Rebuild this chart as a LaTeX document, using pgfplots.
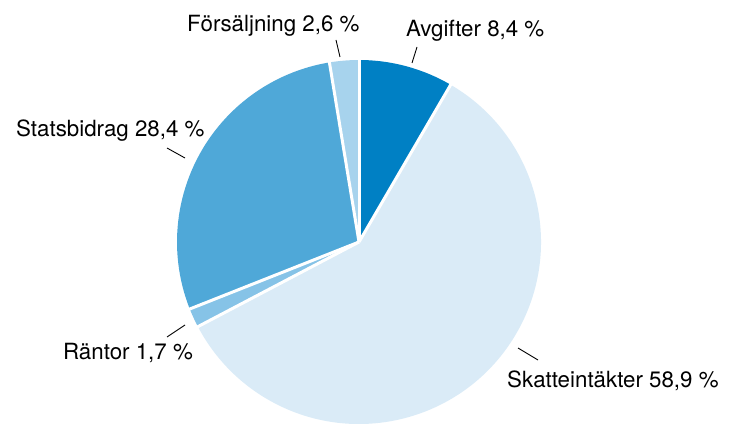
\documentclass[border=0pt]{standalone}
\usepackage{pgfplots}
\pgfplotsset{compat=1.18}
\usepackage{pgfplotstable}
\usepackage{fontspec}
\setmainfont{TeX Gyre Heros}
\definecolor{c0}{HTML}{0080C4}
\definecolor{c1}{HTML}{DAEBF7}
\definecolor{c2}{HTML}{86C3E7}
\definecolor{c3}{HTML}{4FA8D8}
\definecolor{c4}{HTML}{A7D3ED}
\pgfplotstableread[col sep=comma]{
name,value
Avgifter,8.4
Skatteintäkter,58.9
Räntor,1.7
Statsbidrag,28.4
Försäljning,2.6
}\piedata
\def\curangle{90}%
\pgfplotsforeachungrouped \i in {0,...,4}{%
  \pgfplotstablegetelem{\i}{value}\of\piedata%
  \pgfmathsetmacro\endangle{\curangle-3.6*\pgfplotsretval}%
  \expandafter\xdef\csname sa\i\endcsname{\curangle}%
  \expandafter\xdef\csname ea\i\endcsname{\endangle}%
  \xdef\curangle{\endangle}%
}%
\begin{document}
\begin{tikzpicture}
\begin{axis}[
  hide axis, scale only axis,
  width=735bp, height=424bp,
  xmin=-359, xmax=376, ymin=-182, ymax=242,
  clip=true,
]
\pgfplotsinvokeforeach{0,...,4}{
  \fill[c#1] (axis cs:0,0) -- ++(\csname sa#1\endcsname:182bp)
     arc[start angle=\csname sa#1\endcsname, end angle=\csname ea#1\endcsname, radius=182bp] -- cycle;
}
\pgfplotsinvokeforeach{0,...,4}{
  \draw[white, line width=3bp] (axis cs:0,0) -- ++(\csname sa#1\endcsname:186bp);
}
\addplot[black, line width=0.9bp, no marks] coordinates {(58,195) (53,179)};
\addplot[black, line width=0.9bp, no marks] coordinates {(-23,202) (-19,185)};
\addplot[black, line width=0.9bp, no marks] coordinates {(-192,94) (-174,84)};
\addplot[black, line width=0.9bp, no marks] coordinates {(-174,-83) (-192,-95)};
\addplot[black, line width=0.9bp, no marks] coordinates {(159,-106) (179,-118)};
\node[anchor=base west, font=\fontsize{22.4}{25}\selectfont, inner sep=0pt] at (axis cs:47,205) {Avgifter 8,4~\%};
\node[anchor=base west, font=\fontsize{22.4}{25}\selectfont, inner sep=0pt] at (axis cs:-172,210) {Försäljning 2,6~\%};
\node[anchor=base west, font=\fontsize{22.4}{25}\selectfont, inner sep=0pt] at (axis cs:-343,105) {Statsbidrag 28,4~\%};
\node[anchor=base west, font=\fontsize{22.4}{25}\selectfont, inner sep=0pt] at (axis cs:-296,-118) {Räntor 1,7~\%};
\node[anchor=base west, font=\fontsize{22.4}{25}\selectfont, inner sep=0pt] at (axis cs:148,-146) {Skatteintäkter 58,9~\%};
\end{axis}
\pgfresetboundingbox
\path (current axis.south west) rectangle (current axis.north east);
\end{tikzpicture}
\end{document}
